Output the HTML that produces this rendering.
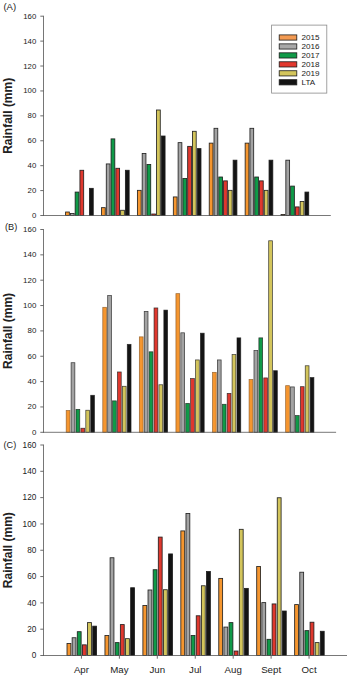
<!DOCTYPE html>
<html><head><meta charset="utf-8"><title>Rainfall</title>
<style>
html,body{margin:0;padding:0;background:#fff;}
body{width:350px;height:676px;overflow:hidden;}
svg{display:block;}
text{font-family:"Liberation Sans",Arial,sans-serif;fill:#222;}
.tk{text-anchor:end;}
.pl{}
.yt{font-size:12px;font-weight:bold;text-anchor:middle;}
.xl{font-size:9.7px;text-anchor:middle;}
.lg{font-size:8.1px;}
</style></head><body>
<svg width="350" height="676" viewBox="0 0 350 676">
<rect width="350" height="676" fill="#ffffff"/>
<g>
<rect x="65.59" y="212.01" width="3.75" height="3.49" fill="#F5962F" stroke="#1a1a1a" stroke-opacity="0.95" stroke-width="0.85"/>
<rect x="70.37" y="213.51" width="3.75" height="1.99" fill="#A3A3A3" stroke="#1a1a1a" stroke-opacity="0.95" stroke-width="0.85"/>
<rect x="75.15" y="192.08" width="3.75" height="23.42" fill="#109A48" stroke="#1a1a1a" stroke-opacity="0.95" stroke-width="0.85"/>
<rect x="79.93" y="170.28" width="3.75" height="45.22" fill="#DF382E" stroke="#1a1a1a" stroke-opacity="0.95" stroke-width="0.85"/>
<rect x="89.49" y="188.35" width="3.75" height="27.15" fill="#141414" stroke="#1a1a1a" stroke-opacity="0.95" stroke-width="0.85"/>
<rect x="101.50" y="207.65" width="3.75" height="7.85" fill="#F5962F" stroke="#1a1a1a" stroke-opacity="0.95" stroke-width="0.85"/>
<rect x="106.28" y="163.93" width="3.75" height="51.57" fill="#A3A3A3" stroke="#1a1a1a" stroke-opacity="0.95" stroke-width="0.85"/>
<rect x="111.06" y="138.89" width="3.75" height="76.61" fill="#109A48" stroke="#1a1a1a" stroke-opacity="0.95" stroke-width="0.85"/>
<rect x="115.84" y="168.29" width="3.75" height="47.21" fill="#DF382E" stroke="#1a1a1a" stroke-opacity="0.95" stroke-width="0.85"/>
<rect x="120.62" y="210.27" width="3.75" height="5.23" fill="#D3C55C" stroke="#1a1a1a" stroke-opacity="0.95" stroke-width="0.85"/>
<rect x="125.40" y="170.28" width="3.75" height="45.22" fill="#141414" stroke="#1a1a1a" stroke-opacity="0.95" stroke-width="0.85"/>
<rect x="137.41" y="190.34" width="3.75" height="25.16" fill="#F5962F" stroke="#1a1a1a" stroke-opacity="0.95" stroke-width="0.85"/>
<rect x="142.19" y="153.47" width="3.75" height="62.03" fill="#A3A3A3" stroke="#1a1a1a" stroke-opacity="0.95" stroke-width="0.85"/>
<rect x="146.97" y="164.43" width="3.75" height="51.07" fill="#109A48" stroke="#1a1a1a" stroke-opacity="0.95" stroke-width="0.85"/>
<rect x="151.75" y="214.01" width="3.75" height="1.49" fill="#DF382E" stroke="#1a1a1a" stroke-opacity="0.95" stroke-width="0.85"/>
<rect x="156.53" y="110.00" width="3.75" height="105.50" fill="#D3C55C" stroke="#1a1a1a" stroke-opacity="0.95" stroke-width="0.85"/>
<rect x="161.31" y="136.03" width="3.75" height="79.47" fill="#141414" stroke="#1a1a1a" stroke-opacity="0.95" stroke-width="0.85"/>
<rect x="173.33" y="196.94" width="3.75" height="18.56" fill="#F5962F" stroke="#1a1a1a" stroke-opacity="0.95" stroke-width="0.85"/>
<rect x="178.11" y="142.63" width="3.75" height="72.87" fill="#A3A3A3" stroke="#1a1a1a" stroke-opacity="0.95" stroke-width="0.85"/>
<rect x="182.89" y="178.50" width="3.75" height="37.00" fill="#109A48" stroke="#1a1a1a" stroke-opacity="0.95" stroke-width="0.85"/>
<rect x="187.67" y="146.37" width="3.75" height="69.13" fill="#DF382E" stroke="#1a1a1a" stroke-opacity="0.95" stroke-width="0.85"/>
<rect x="192.45" y="131.30" width="3.75" height="84.20" fill="#D3C55C" stroke="#1a1a1a" stroke-opacity="0.95" stroke-width="0.85"/>
<rect x="197.23" y="148.61" width="3.75" height="66.89" fill="#141414" stroke="#1a1a1a" stroke-opacity="0.95" stroke-width="0.85"/>
<rect x="209.24" y="143.13" width="3.75" height="72.37" fill="#F5962F" stroke="#1a1a1a" stroke-opacity="0.95" stroke-width="0.85"/>
<rect x="214.02" y="128.31" width="3.75" height="87.19" fill="#A3A3A3" stroke="#1a1a1a" stroke-opacity="0.95" stroke-width="0.85"/>
<rect x="218.80" y="177.01" width="3.75" height="38.49" fill="#109A48" stroke="#1a1a1a" stroke-opacity="0.95" stroke-width="0.85"/>
<rect x="223.58" y="180.87" width="3.75" height="34.63" fill="#DF382E" stroke="#1a1a1a" stroke-opacity="0.95" stroke-width="0.85"/>
<rect x="228.36" y="190.34" width="3.75" height="25.16" fill="#D3C55C" stroke="#1a1a1a" stroke-opacity="0.95" stroke-width="0.85"/>
<rect x="233.14" y="160.19" width="3.75" height="55.31" fill="#141414" stroke="#1a1a1a" stroke-opacity="0.95" stroke-width="0.85"/>
<rect x="245.15" y="143.13" width="3.75" height="72.37" fill="#F5962F" stroke="#1a1a1a" stroke-opacity="0.95" stroke-width="0.85"/>
<rect x="249.93" y="128.31" width="3.75" height="87.19" fill="#A3A3A3" stroke="#1a1a1a" stroke-opacity="0.95" stroke-width="0.85"/>
<rect x="254.71" y="177.01" width="3.75" height="38.49" fill="#109A48" stroke="#1a1a1a" stroke-opacity="0.95" stroke-width="0.85"/>
<rect x="259.49" y="180.87" width="3.75" height="34.63" fill="#DF382E" stroke="#1a1a1a" stroke-opacity="0.95" stroke-width="0.85"/>
<rect x="264.27" y="190.34" width="3.75" height="25.16" fill="#D3C55C" stroke="#1a1a1a" stroke-opacity="0.95" stroke-width="0.85"/>
<rect x="269.05" y="160.19" width="3.75" height="55.31" fill="#141414" stroke="#1a1a1a" stroke-opacity="0.95" stroke-width="0.85"/>
<rect x="281.06" y="214.50" width="3.75" height="1.00" fill="#F5962F" stroke="#1a1a1a" stroke-opacity="0.95" stroke-width="0.85"/>
<rect x="285.84" y="160.19" width="3.75" height="55.31" fill="#A3A3A3" stroke="#1a1a1a" stroke-opacity="0.95" stroke-width="0.85"/>
<rect x="290.62" y="186.10" width="3.75" height="29.40" fill="#109A48" stroke="#1a1a1a" stroke-opacity="0.95" stroke-width="0.85"/>
<rect x="295.40" y="206.91" width="3.75" height="8.59" fill="#DF382E" stroke="#1a1a1a" stroke-opacity="0.95" stroke-width="0.85"/>
<rect x="300.18" y="201.42" width="3.75" height="14.08" fill="#D3C55C" stroke="#1a1a1a" stroke-opacity="0.95" stroke-width="0.85"/>
<rect x="304.96" y="192.08" width="3.75" height="23.42" fill="#141414" stroke="#1a1a1a" stroke-opacity="0.95" stroke-width="0.85"/>
<path d="M43.5 15.8 V215.9" fill="none" stroke="#767676" stroke-width="1"/>
<path d="M43.0 215.5 H330.8" fill="none" stroke="#555" stroke-width="0.8"/>
<path d="M40.3 215.50 H43.5" stroke="#5c5c5c" stroke-width="0.9"/>
<text class="tk" x="36.3" y="217.99" font-size="7.80">0</text>
<path d="M40.3 190.59 H43.5" stroke="#5c5c5c" stroke-width="0.9"/>
<text class="tk" x="36.3" y="193.08" font-size="7.80">20</text>
<path d="M40.3 165.68 H43.5" stroke="#5c5c5c" stroke-width="0.9"/>
<text class="tk" x="36.3" y="168.17" font-size="7.80">40</text>
<path d="M40.3 140.76 H43.5" stroke="#5c5c5c" stroke-width="0.9"/>
<text class="tk" x="36.3" y="143.25" font-size="7.80">60</text>
<path d="M40.3 115.85 H43.5" stroke="#5c5c5c" stroke-width="0.9"/>
<text class="tk" x="36.3" y="118.34" font-size="7.80">80</text>
<path d="M40.3 90.94 H43.5" stroke="#5c5c5c" stroke-width="0.9"/>
<text class="tk" x="36.3" y="93.43" font-size="7.80">100</text>
<path d="M40.3 66.03 H43.5" stroke="#5c5c5c" stroke-width="0.9"/>
<text class="tk" x="36.3" y="68.52" font-size="7.80">120</text>
<path d="M40.3 41.11 H43.5" stroke="#5c5c5c" stroke-width="0.9"/>
<text class="tk" x="36.3" y="43.60" font-size="7.80">140</text>
<path d="M40.3 16.20 H43.5" stroke="#5c5c5c" stroke-width="0.9"/>
<text class="tk" x="36.3" y="18.69" font-size="7.80">160</text>
<text class="pl" x="3.4" y="9.9" font-size="9.50">(A)</text>
<text class="yt" transform="translate(11.6 115.8) rotate(-90)">Rainfall (mm)</text>
</g>
<g>
<rect x="66.20" y="410.50" width="3.75" height="21.80" fill="#F5962F" stroke="#8a5520" stroke-opacity="0.80" stroke-width="0.75"/>
<rect x="71.10" y="362.71" width="3.75" height="69.59" fill="#A3A3A3" stroke="#1a1a1a" stroke-opacity="0.80" stroke-width="0.75"/>
<rect x="76.00" y="409.36" width="3.75" height="22.94" fill="#109A48" stroke="#1a1a1a" stroke-opacity="0.80" stroke-width="0.75"/>
<rect x="80.90" y="428.24" width="3.75" height="4.06" fill="#DF382E" stroke="#1a1a1a" stroke-opacity="0.80" stroke-width="0.75"/>
<rect x="85.80" y="410.25" width="3.75" height="22.05" fill="#D3C55C" stroke="#1a1a1a" stroke-opacity="0.80" stroke-width="0.75"/>
<rect x="90.70" y="395.29" width="3.75" height="37.01" fill="#141414" stroke="#1a1a1a" stroke-opacity="0.80" stroke-width="0.75"/>
<rect x="102.78" y="307.32" width="3.75" height="124.98" fill="#F5962F" stroke="#8a5520" stroke-opacity="0.80" stroke-width="0.75"/>
<rect x="107.68" y="295.54" width="3.75" height="136.76" fill="#A3A3A3" stroke="#1a1a1a" stroke-opacity="0.80" stroke-width="0.75"/>
<rect x="112.58" y="400.87" width="3.75" height="31.43" fill="#109A48" stroke="#1a1a1a" stroke-opacity="0.80" stroke-width="0.75"/>
<rect x="117.48" y="371.97" width="3.75" height="60.33" fill="#DF382E" stroke="#1a1a1a" stroke-opacity="0.80" stroke-width="0.75"/>
<rect x="122.38" y="386.29" width="3.75" height="46.01" fill="#D3C55C" stroke="#1a1a1a" stroke-opacity="0.80" stroke-width="0.75"/>
<rect x="127.28" y="344.34" width="3.75" height="87.96" fill="#141414" stroke="#1a1a1a" stroke-opacity="0.80" stroke-width="0.75"/>
<rect x="139.35" y="336.86" width="3.75" height="95.44" fill="#F5962F" stroke="#8a5520" stroke-opacity="0.80" stroke-width="0.75"/>
<rect x="144.25" y="311.38" width="3.75" height="120.92" fill="#A3A3A3" stroke="#1a1a1a" stroke-opacity="0.80" stroke-width="0.75"/>
<rect x="149.15" y="351.81" width="3.75" height="80.49" fill="#109A48" stroke="#1a1a1a" stroke-opacity="0.80" stroke-width="0.75"/>
<rect x="154.05" y="307.96" width="3.75" height="124.34" fill="#DF382E" stroke="#1a1a1a" stroke-opacity="0.80" stroke-width="0.75"/>
<rect x="158.95" y="384.77" width="3.75" height="47.53" fill="#D3C55C" stroke="#1a1a1a" stroke-opacity="0.80" stroke-width="0.75"/>
<rect x="163.85" y="310.11" width="3.75" height="122.19" fill="#141414" stroke="#1a1a1a" stroke-opacity="0.80" stroke-width="0.75"/>
<rect x="175.93" y="293.64" width="3.75" height="138.66" fill="#F5962F" stroke="#8a5520" stroke-opacity="0.80" stroke-width="0.75"/>
<rect x="180.83" y="332.80" width="3.75" height="99.50" fill="#A3A3A3" stroke="#1a1a1a" stroke-opacity="0.80" stroke-width="0.75"/>
<rect x="185.73" y="403.40" width="3.75" height="28.90" fill="#109A48" stroke="#1a1a1a" stroke-opacity="0.80" stroke-width="0.75"/>
<rect x="190.62" y="378.56" width="3.75" height="53.74" fill="#DF382E" stroke="#1a1a1a" stroke-opacity="0.80" stroke-width="0.75"/>
<rect x="195.53" y="359.93" width="3.75" height="72.37" fill="#D3C55C" stroke="#1a1a1a" stroke-opacity="0.80" stroke-width="0.75"/>
<rect x="200.43" y="333.18" width="3.75" height="99.12" fill="#141414" stroke="#1a1a1a" stroke-opacity="0.80" stroke-width="0.75"/>
<rect x="212.50" y="372.35" width="3.75" height="59.95" fill="#F5962F" stroke="#8a5520" stroke-opacity="0.80" stroke-width="0.75"/>
<rect x="217.40" y="359.93" width="3.75" height="72.37" fill="#A3A3A3" stroke="#1a1a1a" stroke-opacity="0.80" stroke-width="0.75"/>
<rect x="222.30" y="404.29" width="3.75" height="28.01" fill="#109A48" stroke="#1a1a1a" stroke-opacity="0.80" stroke-width="0.75"/>
<rect x="227.20" y="393.39" width="3.75" height="38.91" fill="#DF382E" stroke="#1a1a1a" stroke-opacity="0.80" stroke-width="0.75"/>
<rect x="232.10" y="354.60" width="3.75" height="77.70" fill="#D3C55C" stroke="#1a1a1a" stroke-opacity="0.80" stroke-width="0.75"/>
<rect x="237.00" y="337.87" width="3.75" height="94.43" fill="#141414" stroke="#1a1a1a" stroke-opacity="0.80" stroke-width="0.75"/>
<rect x="249.08" y="379.45" width="3.75" height="52.85" fill="#F5962F" stroke="#8a5520" stroke-opacity="0.80" stroke-width="0.75"/>
<rect x="253.98" y="350.55" width="3.75" height="81.75" fill="#A3A3A3" stroke="#1a1a1a" stroke-opacity="0.80" stroke-width="0.75"/>
<rect x="258.88" y="337.87" width="3.75" height="94.43" fill="#109A48" stroke="#1a1a1a" stroke-opacity="0.80" stroke-width="0.75"/>
<rect x="263.78" y="377.92" width="3.75" height="54.38" fill="#DF382E" stroke="#1a1a1a" stroke-opacity="0.80" stroke-width="0.75"/>
<rect x="268.68" y="240.78" width="3.75" height="191.52" fill="#D3C55C" stroke="#1a1a1a" stroke-opacity="0.80" stroke-width="0.75"/>
<rect x="273.58" y="370.70" width="3.75" height="61.60" fill="#141414" stroke="#1a1a1a" stroke-opacity="0.80" stroke-width="0.75"/>
<rect x="285.65" y="385.66" width="3.75" height="46.64" fill="#F5962F" stroke="#8a5520" stroke-opacity="0.80" stroke-width="0.75"/>
<rect x="290.55" y="386.92" width="3.75" height="45.38" fill="#A3A3A3" stroke="#1a1a1a" stroke-opacity="0.80" stroke-width="0.75"/>
<rect x="295.45" y="415.57" width="3.75" height="16.73" fill="#109A48" stroke="#1a1a1a" stroke-opacity="0.80" stroke-width="0.75"/>
<rect x="300.35" y="386.67" width="3.75" height="45.63" fill="#DF382E" stroke="#1a1a1a" stroke-opacity="0.80" stroke-width="0.75"/>
<rect x="305.25" y="365.76" width="3.75" height="66.54" fill="#D3C55C" stroke="#1a1a1a" stroke-opacity="0.80" stroke-width="0.75"/>
<rect x="310.15" y="377.54" width="3.75" height="54.76" fill="#141414" stroke="#1a1a1a" stroke-opacity="0.80" stroke-width="0.75"/>
<path d="M43.5 229.1 V432.7" fill="none" stroke="#767676" stroke-width="1"/>
<path d="M43.0 432.3 H336.1" fill="none" stroke="#555" stroke-width="0.8"/>
<path d="M40.3 432.30 H43.5" stroke="#5c5c5c" stroke-width="0.9"/>
<text class="tk" x="36.3" y="434.84" font-size="7.93">0</text>
<path d="M40.3 406.95 H43.5" stroke="#5c5c5c" stroke-width="0.9"/>
<text class="tk" x="36.3" y="409.49" font-size="7.93">20</text>
<path d="M40.3 381.60 H43.5" stroke="#5c5c5c" stroke-width="0.9"/>
<text class="tk" x="36.3" y="384.14" font-size="7.93">40</text>
<path d="M40.3 356.25 H43.5" stroke="#5c5c5c" stroke-width="0.9"/>
<text class="tk" x="36.3" y="358.79" font-size="7.93">60</text>
<path d="M40.3 330.90 H43.5" stroke="#5c5c5c" stroke-width="0.9"/>
<text class="tk" x="36.3" y="333.44" font-size="7.93">80</text>
<path d="M40.3 305.55 H43.5" stroke="#5c5c5c" stroke-width="0.9"/>
<text class="tk" x="36.3" y="308.09" font-size="7.93">100</text>
<path d="M40.3 280.20 H43.5" stroke="#5c5c5c" stroke-width="0.9"/>
<text class="tk" x="36.3" y="282.74" font-size="7.93">120</text>
<path d="M40.3 254.85 H43.5" stroke="#5c5c5c" stroke-width="0.9"/>
<text class="tk" x="36.3" y="257.39" font-size="7.93">140</text>
<path d="M40.3 229.50 H43.5" stroke="#5c5c5c" stroke-width="0.9"/>
<text class="tk" x="36.3" y="232.04" font-size="7.93">160</text>
<text class="pl" x="5.0" y="229.6" font-size="9.20">(B)</text>
<text class="yt" transform="translate(11.6 330.9) rotate(-90)">Rainfall (mm)</text>
</g>
<g>
<rect x="67.01" y="643.53" width="3.85" height="11.97" fill="#F5962F" stroke="#1a1a1a" stroke-opacity="0.95" stroke-width="0.85"/>
<rect x="72.15" y="637.74" width="3.85" height="17.76" fill="#A3A3A3" stroke="#1a1a1a" stroke-opacity="0.95" stroke-width="0.85"/>
<rect x="77.29" y="631.69" width="3.85" height="23.81" fill="#109A48" stroke="#1a1a1a" stroke-opacity="0.95" stroke-width="0.85"/>
<rect x="82.43" y="644.84" width="3.85" height="10.66" fill="#DF382E" stroke="#1a1a1a" stroke-opacity="0.95" stroke-width="0.85"/>
<rect x="87.57" y="622.61" width="3.85" height="32.89" fill="#D3C55C" stroke="#1a1a1a" stroke-opacity="0.95" stroke-width="0.85"/>
<rect x="92.71" y="626.16" width="3.85" height="29.34" fill="#141414" stroke="#1a1a1a" stroke-opacity="0.95" stroke-width="0.85"/>
<rect x="104.95" y="635.50" width="3.85" height="20.00" fill="#F5962F" stroke="#1a1a1a" stroke-opacity="0.95" stroke-width="0.85"/>
<rect x="110.09" y="557.75" width="3.85" height="97.75" fill="#A3A3A3" stroke="#1a1a1a" stroke-opacity="0.95" stroke-width="0.85"/>
<rect x="115.23" y="642.61" width="3.85" height="12.89" fill="#109A48" stroke="#1a1a1a" stroke-opacity="0.95" stroke-width="0.85"/>
<rect x="120.37" y="624.58" width="3.85" height="30.92" fill="#DF382E" stroke="#1a1a1a" stroke-opacity="0.95" stroke-width="0.85"/>
<rect x="125.51" y="638.66" width="3.85" height="16.84" fill="#D3C55C" stroke="#1a1a1a" stroke-opacity="0.95" stroke-width="0.85"/>
<rect x="130.65" y="587.75" width="3.85" height="67.75" fill="#141414" stroke="#1a1a1a" stroke-opacity="0.95" stroke-width="0.85"/>
<rect x="142.89" y="605.51" width="3.85" height="49.99" fill="#F5962F" stroke="#1a1a1a" stroke-opacity="0.95" stroke-width="0.85"/>
<rect x="148.03" y="589.98" width="3.85" height="65.52" fill="#A3A3A3" stroke="#1a1a1a" stroke-opacity="0.95" stroke-width="0.85"/>
<rect x="153.17" y="569.72" width="3.85" height="85.78" fill="#109A48" stroke="#1a1a1a" stroke-opacity="0.95" stroke-width="0.85"/>
<rect x="158.31" y="537.09" width="3.85" height="118.41" fill="#DF382E" stroke="#1a1a1a" stroke-opacity="0.95" stroke-width="0.85"/>
<rect x="163.45" y="589.72" width="3.85" height="65.78" fill="#D3C55C" stroke="#1a1a1a" stroke-opacity="0.95" stroke-width="0.85"/>
<rect x="168.59" y="553.93" width="3.85" height="101.57" fill="#141414" stroke="#1a1a1a" stroke-opacity="0.95" stroke-width="0.85"/>
<rect x="180.83" y="530.91" width="3.85" height="124.59" fill="#F5962F" stroke="#1a1a1a" stroke-opacity="0.95" stroke-width="0.85"/>
<rect x="185.97" y="513.54" width="3.85" height="141.96" fill="#A3A3A3" stroke="#1a1a1a" stroke-opacity="0.95" stroke-width="0.85"/>
<rect x="191.11" y="635.50" width="3.85" height="20.00" fill="#109A48" stroke="#1a1a1a" stroke-opacity="0.95" stroke-width="0.85"/>
<rect x="196.25" y="615.77" width="3.85" height="39.73" fill="#DF382E" stroke="#1a1a1a" stroke-opacity="0.95" stroke-width="0.85"/>
<rect x="201.39" y="585.77" width="3.85" height="69.73" fill="#D3C55C" stroke="#1a1a1a" stroke-opacity="0.95" stroke-width="0.85"/>
<rect x="206.53" y="571.56" width="3.85" height="83.94" fill="#141414" stroke="#1a1a1a" stroke-opacity="0.95" stroke-width="0.85"/>
<rect x="218.76" y="578.40" width="3.85" height="77.10" fill="#F5962F" stroke="#1a1a1a" stroke-opacity="0.95" stroke-width="0.85"/>
<rect x="223.90" y="627.08" width="3.85" height="28.42" fill="#A3A3A3" stroke="#1a1a1a" stroke-opacity="0.95" stroke-width="0.85"/>
<rect x="229.04" y="622.61" width="3.85" height="32.89" fill="#109A48" stroke="#1a1a1a" stroke-opacity="0.95" stroke-width="0.85"/>
<rect x="234.18" y="651.03" width="3.85" height="4.47" fill="#DF382E" stroke="#1a1a1a" stroke-opacity="0.95" stroke-width="0.85"/>
<rect x="239.32" y="529.33" width="3.85" height="126.17" fill="#D3C55C" stroke="#1a1a1a" stroke-opacity="0.95" stroke-width="0.85"/>
<rect x="244.46" y="588.40" width="3.85" height="67.10" fill="#141414" stroke="#1a1a1a" stroke-opacity="0.95" stroke-width="0.85"/>
<rect x="256.70" y="566.43" width="3.85" height="89.07" fill="#F5962F" stroke="#1a1a1a" stroke-opacity="0.95" stroke-width="0.85"/>
<rect x="261.84" y="602.61" width="3.85" height="52.89" fill="#A3A3A3" stroke="#1a1a1a" stroke-opacity="0.95" stroke-width="0.85"/>
<rect x="266.98" y="639.32" width="3.85" height="16.18" fill="#109A48" stroke="#1a1a1a" stroke-opacity="0.95" stroke-width="0.85"/>
<rect x="272.12" y="603.93" width="3.85" height="51.57" fill="#DF382E" stroke="#1a1a1a" stroke-opacity="0.95" stroke-width="0.85"/>
<rect x="277.26" y="497.76" width="3.85" height="157.74" fill="#D3C55C" stroke="#1a1a1a" stroke-opacity="0.95" stroke-width="0.85"/>
<rect x="282.40" y="611.03" width="3.85" height="44.47" fill="#141414" stroke="#1a1a1a" stroke-opacity="0.95" stroke-width="0.85"/>
<rect x="294.64" y="604.59" width="3.85" height="50.91" fill="#F5962F" stroke="#1a1a1a" stroke-opacity="0.95" stroke-width="0.85"/>
<rect x="299.78" y="572.22" width="3.85" height="83.28" fill="#A3A3A3" stroke="#1a1a1a" stroke-opacity="0.95" stroke-width="0.85"/>
<rect x="304.92" y="630.63" width="3.85" height="24.87" fill="#109A48" stroke="#1a1a1a" stroke-opacity="0.95" stroke-width="0.85"/>
<rect x="310.06" y="622.21" width="3.85" height="33.29" fill="#DF382E" stroke="#1a1a1a" stroke-opacity="0.95" stroke-width="0.85"/>
<rect x="315.20" y="642.61" width="3.85" height="12.89" fill="#D3C55C" stroke="#1a1a1a" stroke-opacity="0.95" stroke-width="0.85"/>
<rect x="320.34" y="631.29" width="3.85" height="24.21" fill="#141414" stroke="#1a1a1a" stroke-opacity="0.95" stroke-width="0.85"/>
<path d="M43.5 444.6 V655.9" fill="none" stroke="#767676" stroke-width="1"/>
<path d="M43.0 655.5 H347.0" fill="none" stroke="#555" stroke-width="0.8"/>
<path d="M40.3 655.50 H43.5" stroke="#5c5c5c" stroke-width="0.9"/>
<text class="tk" x="36.3" y="658.15" font-size="8.23">0</text>
<path d="M40.3 629.19 H43.5" stroke="#5c5c5c" stroke-width="0.9"/>
<text class="tk" x="36.3" y="631.84" font-size="8.23">20</text>
<path d="M40.3 602.88 H43.5" stroke="#5c5c5c" stroke-width="0.9"/>
<text class="tk" x="36.3" y="605.52" font-size="8.23">40</text>
<path d="M40.3 576.56 H43.5" stroke="#5c5c5c" stroke-width="0.9"/>
<text class="tk" x="36.3" y="579.21" font-size="8.23">60</text>
<path d="M40.3 550.25 H43.5" stroke="#5c5c5c" stroke-width="0.9"/>
<text class="tk" x="36.3" y="552.90" font-size="8.23">80</text>
<path d="M40.3 523.94 H43.5" stroke="#5c5c5c" stroke-width="0.9"/>
<text class="tk" x="36.3" y="526.59" font-size="8.23">100</text>
<path d="M40.3 497.62 H43.5" stroke="#5c5c5c" stroke-width="0.9"/>
<text class="tk" x="36.3" y="500.27" font-size="8.23">120</text>
<path d="M40.3 471.31 H43.5" stroke="#5c5c5c" stroke-width="0.9"/>
<text class="tk" x="36.3" y="473.96" font-size="8.23">140</text>
<path d="M40.3 445.00 H43.5" stroke="#5c5c5c" stroke-width="0.9"/>
<text class="tk" x="36.3" y="447.65" font-size="8.23">160</text>
<path d="M81.44 655.5 V658.7" stroke="#5c5c5c" stroke-width="0.9"/>
<text class="xl" x="81.44" y="672.6">Apr</text>
<path d="M119.38 655.5 V658.7" stroke="#5c5c5c" stroke-width="0.9"/>
<text class="xl" x="119.38" y="672.6">May</text>
<path d="M157.31 655.5 V658.7" stroke="#5c5c5c" stroke-width="0.9"/>
<text class="xl" x="157.31" y="672.6">Jun</text>
<path d="M195.25 655.5 V658.7" stroke="#5c5c5c" stroke-width="0.9"/>
<text class="xl" x="195.25" y="672.6">Jul</text>
<path d="M233.19 655.5 V658.7" stroke="#5c5c5c" stroke-width="0.9"/>
<text class="xl" x="233.19" y="672.6">Aug</text>
<path d="M271.12 655.5 V658.7" stroke="#5c5c5c" stroke-width="0.9"/>
<text class="xl" x="271.12" y="672.6">Sept</text>
<path d="M309.06 655.5 V658.7" stroke="#5c5c5c" stroke-width="0.9"/>
<text class="xl" x="309.06" y="672.6">Oct</text>
<text class="pl" x="3.6" y="447.9" font-size="9.10">(C)</text>
<text class="yt" transform="translate(11.6 550.2) rotate(-90)">Rainfall (mm)</text>
</g>
<rect x="271.6" y="25.1" width="55.2" height="68" fill="#fff" stroke="#8a8a8a" stroke-width="0.8"/>
<rect x="279.2" y="34.90" width="17.6" height="5.2" fill="#F39A52" stroke="#1c1c1c" stroke-width="0.8"/>
<text class="lg" x="301.6" y="40.30">2015</text>
<rect x="279.2" y="43.86" width="17.6" height="5.2" fill="#A8A8A8" stroke="#1c1c1c" stroke-width="0.8"/>
<text class="lg" x="301.6" y="49.26">2016</text>
<rect x="279.2" y="52.82" width="17.6" height="5.2" fill="#109A48" stroke="#1c1c1c" stroke-width="0.8"/>
<text class="lg" x="301.6" y="58.22">2017</text>
<rect x="279.2" y="61.78" width="17.6" height="5.2" fill="#E2382E" stroke="#1c1c1c" stroke-width="0.8"/>
<text class="lg" x="301.6" y="67.18">2018</text>
<rect x="279.2" y="70.74" width="17.6" height="5.2" fill="#D3C55C" stroke="#1c1c1c" stroke-width="0.8"/>
<text class="lg" x="301.6" y="76.14">2019</text>
<rect x="279.2" y="79.70" width="17.6" height="5.2" fill="#141414" stroke="#1c1c1c" stroke-width="0.8"/>
<text class="lg" x="301.6" y="85.10">LTA</text>
</svg>
</body></html>
